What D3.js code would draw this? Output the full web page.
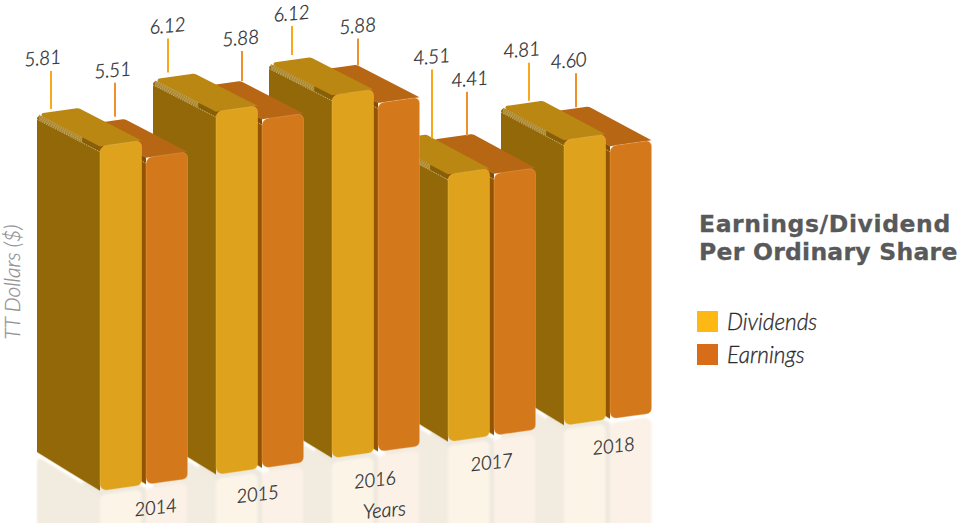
<!DOCTYPE html>
<html>
<head>
<meta charset="utf-8">
<script src="https://cdn.jsdelivr.net/npm/d3@7"></script>
<style>
  html, body { margin: 0; padding: 0; background: #fff; }
  svg { display: block; }
  text { font-family: "Lato", "Open Sans", sans-serif; }
</style>
</head>
<body>
<script>
// Values per ordinary share, TT dollars
const years = ["2014", "2015", "2016", "2017", "2018"];
const dividends = [5.81, 6.12, 6.12, 4.51, 4.81];
const earnings = [5.51, 5.88, 5.88, 4.41, 4.60];
const legendLabels = ["Dividends", "Earnings"];
const titleLines = ["Earnings/Dividend", "Per Ordinary Share"];

// Callout layout: leader x from the bar's back corner, gap to the top face, leader length
const dividendLeaderDx = [14, 15, 23, 47, 28];
const dividendLeaderGap = [5, 7, 8, 2, 6];
const dividendLeaderLen = [38, 34, 29, 69, 38];
const earningsLeaderDx = [32, 43, 43, 36, 29];
const earningsLeaderGap = [8, 6, 5, 4, 5];
const earningsLeaderLen = [34, 30, 27, 44, 34];
const dividendLabelDx = [-8, 0, 0, 0, -7];
const earningsLabelDx = [-2, -1, 0, 3, -7];
// Year label nudges along and across the floor line
const yearLabelDx = [0, -14, -13, -12, -6];
const yearLabelDy = [0, 3, 5, 4, 4];
const titleSpacing = [0.6, 0.25];

const W = 958, H = 523;
const svg = d3.select("body").append("svg").attr("width", W).attr("height", H);

// Oblique projection: screen x of a bar's front, value, and depth 0 (front) .. 1 (back)
const xFront = d3.scalePoint().domain(years).range([100, 564]);
const baseLine = d3.scaleLinear().domain([100, 564]).range([491, 425.5]);
const yHeight = d3.scaleLinear().domain([0, 6.12]).range([0, 363]);
const barW = 41.5, earningsShift = 46;
const depthX = 63, depthY = 38.7, depthShrink = 0.018;

function project(u, v, d) {
  return [u - depthX * d, baseLine(u) - yHeight(v) * (1 - depthShrink * d) - depthY * d];
}

// Closed outline with per-corner radii
function roundedPath(pts, radii) {
  const p = d3.path(), n = pts.length;
  const mid = (a, b) => [(a[0] + b[0]) / 2, (a[1] + b[1]) / 2];
  const start = mid(pts[n - 1], pts[0]);
  p.moveTo(start[0], start[1]);
  pts.forEach((c, i) => {
    const next = pts[(i + 1) % n];
    if (radii[i] > 0) p.arcTo(c[0], c[1], next[0], next[1], radii[i]);
    else p.lineTo(c[0], c[1]);
  });
  p.closePath();
  return p.toString();
}

const defs = svg.append("defs");
defs.append("filter").attr("id", "soft").append("feGaussianBlur").attr("stdDeviation", 0.9);

const hatch = defs.append("pattern").attr("id", "hatch").attr("patternUnits", "userSpaceOnUse")
  .attr("width", 2.4).attr("height", 8).attr("patternTransform", "rotate(30)");
hatch.append("rect").attr("width", 2.4).attr("height", 8).attr("fill", "#bb9c4e");
hatch.append("rect").attr("width", 1.1).attr("height", 8).attr("fill", "#a6852f");

const palette = {
  dividends: { front: "#dfa21d", top: "#b98712", side: "#926808", edge: "#865f07",
               reflectFront: "#fbf4e7", reflectSide: "#f2ebdf", glow: "#efc868" },
  earnings: { front: "#d4791b", top: "#b76614", side: "#925400", edge: "#874c02",
              reflectFront: "#fbf1e6", reflectSide: "#eee8df", glow: "#eeb078" }
};

const barsOf = i => [
  { u: xFront(years[i]) + earningsShift, v: earnings[i], c: palette.earnings },
  { u: xFront(years[i]), v: dividends[i], c: palette.dividends }
];
// Later years sit behind earlier ones, so paint from the right
const order = d3.range(years.length).reverse();

// Pale floor reflections
const reflections = svg.append("g").attr("filter", "url(#soft)");
order.forEach(i => barsOf(i).forEach(b => {
  const o = 4;
  const bb = project(b.u, 0, 1), bf = project(b.u, 0, 0), br = project(b.u + barW, 0, 0);
  reflections.append("path")
    .attr("d", roundedPath([[bb[0], bb[1] + o], [bf[0], bf[1] + o], [bf[0], H + 8], [bb[0], H + 8]], [3, 0, 0, 0]))
    .attr("fill", b.c.reflectSide);
  reflections.append("path")
    .attr("d", roundedPath([[bf[0], bf[1] + o], [br[0], br[1] + o], [br[0], H + 8], [bf[0], H + 8]], [6, 6, 0, 0]))
    .attr("fill", b.c.reflectFront);
}));

// Extruded bars
const bars = svg.append("g");
order.forEach(i => barsOf(i).forEach(b => {
  const tl = project(b.u, b.v, 0), tr = project(b.u + barW, b.v, 0);
  const bl = project(b.u, 0, 0), br = project(b.u + barW, 0, 0);
  const btl = project(b.u, b.v, 1), btr = project(b.u + barW, b.v, 1);
  const bbl = project(b.u, 0, 1);

  bars.append("path")
    .attr("d", roundedPath([bbl, btl, tl, bl], [0, 3, 0, 0]))
    .attr("fill", b.c.side);

  // Bevel along the upper side edge: hatched highlight, then a dark run-in
  const along = t => project(b.u, b.v, t);
  const drop = (p, dy) => [p[0], p[1] + dy];
  const start = along(0.97), knee = along(0.28), end = along(0);
  bars.append("path")
    .attr("d", `M${start}L${knee}L${drop(knee, 5)}L${drop(start, 5)}Z`)
    .attr("fill", "url(#hatch)");
  bars.append("path")
    .attr("d", `M${knee}L${end}L${drop(end, 5)}L${drop(knee, 5)}Z`)
    .attr("fill", b.c.edge);
  bars.append("path")
    .attr("d", `M${drop(along(1), 5.5)}L${drop(end, 5.5)}`)
    .attr("stroke", "#efe0b0").attr("stroke-width", 0.6).attr("stroke-dasharray", "1.5 1")
    .attr("fill", "none");

  // Pale line along the foot of the side face
  bars.append("path")
    .attr("d", `M${bbl}L${bl}`)
    .attr("stroke", "#e6d6a8").attr("stroke-width", 0.7).attr("fill", "none");

  bars.append("path")
    .attr("d", roundedPath([btl, btr, tr, tl], [2, 5, 0, 0]))
    .attr("fill", b.c.top);

  bars.append("path")
    .attr("d", roundedPath([bl, tl, tr, br], [6, 7, 5, 6]))
    .attr("fill", b.c.front)
    .attr("stroke", b.c.glow).attr("stroke-width", 0.5).attr("stroke-opacity", 0.7);
}));

const ink = "#2b2b2d";
// Light italic with a hairline outline for a slightly firmer stroke
function italicText(sel, size) {
  return sel.attr("font-size", size).attr("font-style", "italic").attr("font-weight", 300)
    .attr("fill", ink).attr("stroke", ink).attr("stroke-width", 0.3);
}

// Value callouts
const fmt = d3.format(".2f");
const callouts = svg.append("g");
function drawCallouts(values, shift, dxs, gaps, lens, labelDx, color) {
  values.forEach((v, i) => {
    const back = project(xFront(years[i]) + shift, v, 1);
    const x = back[0] + dxs[i], y1 = back[1] - gaps[i], y0 = y1 - lens[i];
    callouts.append("line").attr("x1", x).attr("x2", x).attr("y1", y0).attr("y2", y1)
      .attr("stroke", color).attr("stroke-width", 2);
    italicText(callouts.append("text"), 19.5)
      .attr("transform", `translate(${x + labelDx[i]},${y0 - 6}) rotate(-5)`)
      .attr("text-anchor", "middle").attr("letter-spacing", -0.4)
      .text(fmt(v));
  });
}
drawCallouts(dividends, 0, dividendLeaderDx, dividendLeaderGap, dividendLeaderLen, dividendLabelDx, "#f9a81b");
drawCallouts(earnings, earningsShift, earningsLeaderDx, earningsLeaderGap, earningsLeaderLen, earningsLabelDx, "#f0902a");

// Year labels lie on the floor line
const xAxisLabels = svg.append("g");
years.forEach((y, i) => {
  const u = xFront(y) + 56;
  italicText(xAxisLabels.append("text"), 19)
    .attr("transform", `translate(${u + yearLabelDx[i]},${baseLine(u) + 31 + yearLabelDy[i]}) rotate(-6)`)
    .attr("text-anchor", "middle").attr("letter-spacing", -0.5).text(y);
});
italicText(svg.append("text"), 20).attr("transform", "translate(385,517) rotate(-5)")
  .attr("text-anchor", "middle").text("Years");
svg.append("text").attr("transform", "translate(20,282) rotate(-90)")
  .attr("text-anchor", "middle").attr("font-size", 21).attr("font-style", "italic").attr("font-weight", 300)
  .attr("fill", "#8f8f91").attr("stroke", "#8f8f91").attr("stroke-width", 0.2).text("TT Dollars ($)");

// Title and legend
titleLines.forEach((t, i) => {
  svg.append("text").attr("x", 699).attr("y", 232 + i * 28)
    .style("font-family", "'DejaVu Sans'")
    .attr("font-weight", "bold").attr("font-size", 23.5).attr("letter-spacing", titleSpacing[i])
    .attr("stroke", "#58595b").attr("stroke-width", 0.3)
    .attr("fill", "#58595b").text(t);
});
const legendColors = ["#fdb813", "#d76c19"];
legendLabels.forEach((t, i) => {
  const y = 311 + i * 33;
  svg.append("rect").attr("x", 697).attr("y", y).attr("width", 21).attr("height", 21).attr("fill", legendColors[i]);
  italicText(svg.append("text"), 22.6).attr("x", 727).attr("y", y + 19).text(t);
});
</script>
</body>
</html>
